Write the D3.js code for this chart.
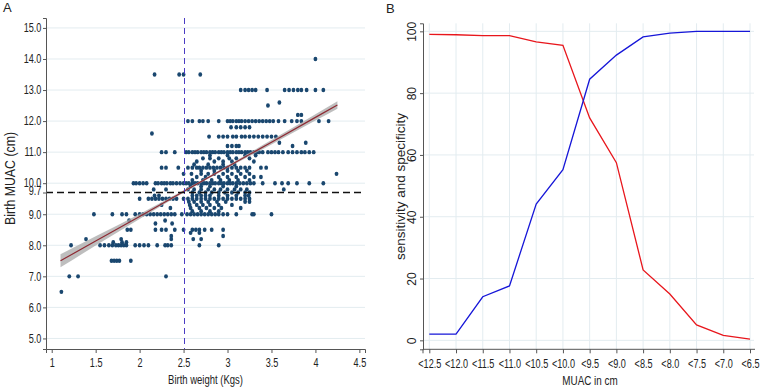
<!DOCTYPE html>
<html>
<head>
<meta charset="utf-8">
<script src="https://cdn.jsdelivr.net/npm/d3@7"></script>
<style>
  body { margin: 0; background: #fff; }
  svg { display: block; }
  text { fill: #222; }
</style>
</head>
<body>
<svg id="chart" width="760" height="388"></svg>
<script>
// ---- panel A data: birth MUAC levels and the birth weights seen at each level
var muacLevels = [14.0, 13.5, 13.0, 12.6, 12.5, 12.2, 12.0, 11.8, 11.6, 11.5, 11.3, 11.2, 11.0, 10.9, 10.8, 10.7, 10.6, 10.5, 10.4, 10.3, 10.2, 10.1, 10.0, 9.9, 9.8, 9.7, 9.6, 9.5, 9.4, 9.3, 9.2, 9.1, 9.0, 8.8, 8.7, 8.5, 8.4, 8.3, 8.2, 8.1, 8.0, 7.5, 7.0, 6.5];
var weightsByLevel = [
  [4.0],
  [2.17, 2.45, 2.5, 2.69],
  [3.15, 3.2, 3.24, 3.28, 3.32, 3.45, 3.65, 3.7, 3.75, 3.8, 3.84, 3.9, 4.0, 4.09],
  [3.59],
  [3.46],
  [3.8, 3.84],
  [2.55, 2.6, 2.68, 2.72, 2.78, 2.9, 3.0, 3.03, 3.06, 3.1, 3.13, 3.16, 3.2, 3.24, 3.28, 3.32, 3.36, 3.4, 3.44, 3.48, 3.52, 3.58, 3.65, 3.73, 3.79, 3.84, 4.04, 4.15],
  [3.04, 3.1, 3.15, 3.2, 3.25],
  [2.14],
  [2.79, 2.9, 2.95, 3.0, 3.06, 3.1, 3.16, 3.2, 3.25, 3.3, 3.35, 3.4, 3.45, 3.5, 3.55],
  [3.59, 3.89],
  [3.0, 3.05, 3.1, 3.13, 3.74],
  [2.25, 2.3, 2.4, 2.53, 2.56, 2.6, 2.63, 2.66, 2.7, 2.73, 2.76, 2.8, 2.83, 2.86, 2.9, 2.93, 2.96, 3.0, 3.03, 3.06, 3.1, 3.13, 3.16, 3.2, 3.23, 3.26, 3.3, 3.33, 3.36, 3.4, 3.46, 3.5, 3.54, 3.58, 3.63, 3.69, 3.74, 3.79, 3.84, 3.88, 3.93, 3.98],
  [2.8, 3.0, 3.2, 3.32],
  [2.72, 2.8, 2.9, 3.02, 3.1, 3.25],
  [2.65, 2.85, 2.95, 3.05, 3.3],
  [2.62, 2.78, 2.95, 3.08],
  [2.25, 2.3, 2.44, 2.55, 2.6, 2.65, 2.68, 2.72, 2.76, 2.8, 2.84, 2.88, 2.92, 2.96, 3.0, 3.05, 3.1, 3.15, 3.2, 3.25, 3.38, 3.44],
  [2.7, 2.85, 3.0, 3.12, 3.22],
  [2.5, 2.59, 2.7, 2.78, 2.85, 2.95, 3.05, 3.15, 3.25, 4.24],
  [2.65, 2.75, 2.9, 3.0, 3.1, 3.2, 3.3, 3.38],
  [2.6, 2.72, 2.82, 2.92, 3.02, 3.12, 3.25],
  [1.93, 1.96, 2.0, 2.04, 2.08, 2.18, 2.21, 2.25, 2.28, 2.31, 2.35, 2.38, 2.42, 2.46, 2.5, 2.53, 2.56, 2.6, 2.63, 2.66, 2.7, 2.73, 2.76, 2.8, 2.83, 2.86, 2.9, 2.93, 2.96, 3.0, 3.03, 3.06, 3.1, 3.14, 3.18, 3.22, 3.26, 3.3, 3.4, 3.54, 3.62, 3.69, 3.79, 3.93, 4.09],
  [2.58, 2.7, 2.8, 2.95, 3.1],
  [2.16, 2.3, 2.55, 2.62, 2.7, 2.78, 2.85, 2.92, 3.0, 3.08, 3.15, 3.22, 3.64],
  [2.6, 2.68, 2.75, 2.82, 2.9, 2.97, 3.05, 3.12, 3.2, 3.25],
  [2.17, 2.22, 2.6, 2.65, 2.7, 2.75, 2.8, 2.9, 3.0, 3.1, 3.2, 3.24],
  [2.0, 2.1, 2.14, 2.18, 2.22, 2.26, 2.3, 2.34, 2.38, 2.42, 2.5, 2.55, 2.6, 2.65, 2.7, 2.75, 2.8, 2.85, 2.9, 2.95, 3.0, 3.05, 3.1, 3.15, 3.2, 3.25],
  [2.56, 2.62, 2.7, 2.78, 2.88, 2.98, 3.2, 3.25],
  [2.25, 2.57, 2.65, 2.72, 2.8, 2.9, 3.05],
  [2.35, 2.58, 2.68, 2.76, 2.85, 2.93, 3.15],
  [2.6, 2.7, 2.8, 2.9],
  [1.48, 1.69, 1.8, 1.85, 1.95, 2.0, 2.04, 2.08, 2.12, 2.16, 2.2, 2.24, 2.28, 2.32, 2.36, 2.4, 2.48, 2.54, 2.58, 2.62, 2.66, 2.7, 2.74, 2.78, 2.82, 2.86, 2.9, 2.95, 3.0, 3.1, 3.28, 3.3, 3.5],
  [1.88, 2.29],
  [2.18, 2.37],
  [1.86, 1.9, 2.18, 2.25, 2.3, 2.4, 2.5, 2.6, 2.64, 2.68, 2.74, 2.82, 2.95],
  [2.58, 2.68],
  [2.36, 2.95],
  [1.39, 1.79, 2.36, 2.61, 2.7],
  [1.7, 1.8, 1.85],
  [1.22, 1.55, 1.6, 1.65, 1.69, 1.73, 1.76, 1.79, 1.82, 1.85, 1.95, 2.0, 2.05, 2.1, 2.2, 2.29, 2.32, 2.36, 2.68, 2.9],
  [1.68, 1.71, 1.74, 1.77, 1.9],
  [1.2, 1.3, 2.3],
  [1.11]
];
// fitted line with its confidence band, read at a few weights
var fitX  = [1.1, 1.5, 2.0, 2.5, 3.0, 3.5, 4.0, 4.25];
var fitY  = [7.50, 8.14, 8.93, 9.73, 10.53, 11.32, 12.12, 12.52];
var fitHw = [0.21, 0.15, 0.08, 0.04, 0.04, 0.07, 0.10, 0.12];
var weightTicks = [1, 1.5, 2, 2.5, 3, 3.5, 4, 4.5];
var muacTicks = [5, 6, 7, 8, 9, 9.7, 10, 11, 12, 13, 14, 15];

// ---- panel B data
var cutLabels = ["<12.5", "<12.0", "<11.5", "<11.0", "<10.5", "<10.0", "<9.5", "<9.0", "<8.5", "<8.0", "<7.5", "<7.0", "<6.5"];
var specificity = [99.0, 98.9, 98.6, 98.6, 96.6, 95.5, 72.0, 57.5, 22.8, 15.0, 5.0, 1.6, 0.4];
var sensitivity = [2.0, 2.0, 14.1, 17.6, 44.1, 55.2, 84.5, 92.3, 98.2, 99.4, 100, 100, 100];
var pctTicks = [0, 20, 40, 60, 80, 100];

var sans = "'Liberation Sans', Arial, sans-serif";
var gridCol = "#e3ecf0";
var axisCol = "#555";

var svg = d3.select("#chart");

// ================= panel A =================
var xA = d3.scaleLinear().domain([0.935, 4.564]).range([46, 365]);
var yA = d3.scaleLinear().domain([4.66, 15.32]).range([349, 18]);

svg.append("text").attr("x", 3).attr("y", 12).attr("font-family", sans).attr("font-size", 13).text("A");

var gA = svg.append("g");
gA.append("g").selectAll("line")
    .data(muacTicks.filter(d => d !== 9.7))
    .enter().append("line")
    .attr("x1", 46).attr("x2", 365)
    .attr("y1", d => yA(d)).attr("y2", d => yA(d))
    .attr("stroke", gridCol).attr("stroke-width", 1);

var pts = [];
muacLevels.forEach((m, i) => weightsByLevel[i].forEach(w => pts.push([w, m])));

// confidence band
var band = d3.area()
    .x((d, i) => xA(fitX[i]))
    .y0((d, i) => yA(fitY[i] - fitHw[i]))
    .y1((d, i) => yA(fitY[i] + fitHw[i]))
    .curve(d3.curveMonotoneX);

gA.append("g").selectAll("ellipse")
    .data(pts)
    .enter().append("ellipse")
    .attr("cx", d => xA(d[0])).attr("cy", d => yA(d[1]))
    .attr("rx", 1.9).attr("ry", 2.2)
    .attr("fill", "#1a476f");

gA.append("path").datum(fitX).attr("d", band).attr("fill", "#a8a8a8").attr("opacity", 0.75);
gA.append("path").datum(fitX)
    .attr("d", d3.line().x((d, i) => xA(fitX[i])).y((d, i) => yA(fitY[i])))
    .attr("fill", "none").attr("stroke", "#8e2a33").attr("stroke-width", 1.2);

var x25 = Math.round(xA(2.5)) + 0.5;
gA.append("line")
    .attr("x1", x25).attr("x2", x25).attr("y1", 18).attr("y2", 349)
    .attr("stroke", "#4a3cc4").attr("stroke-width", 1).attr("stroke-dasharray", "6,4");
gA.append("line")
    .attr("x1", 46).attr("x2", 365).attr("y1", yA(9.7)).attr("y2", yA(9.7))
    .attr("stroke", "#111").attr("stroke-width", 1.4).attr("stroke-dasharray", "7,4");

var axAy = gA.append("g").attr("transform", "translate(46,0)")
    .call(d3.axisLeft(yA).tickValues(muacTicks).tickSize(3).tickPadding(3)
        .tickFormat(d => d3.format(".1f")(d)));
var axAx = gA.append("g").attr("transform", "translate(0,349)")
    .call(d3.axisBottom(xA).tickValues(weightTicks).tickSize(4).tickPadding(5)
        .tickFormat(d => String(d)));
[axAy, axAx].forEach(a => {
  a.select(".domain").attr("stroke", axisCol);
  a.selectAll(".tick line").attr("stroke", axisCol);
  a.selectAll(".tick text").attr("font-family", sans).attr("fill", "#222");
});
// narrow look of the original labels
axAy.selectAll(".tick text").attr("font-size", 12).attr("transform", "scale(0.76,1)");
axAx.selectAll(".tick text").attr("font-size", 13).attr("transform", "scale(0.7,1)");
axAy.selectAll(".tick text").filter(d => d === 9.7).attr("dy", "0.15em");
axAy.selectAll(".tick text").filter(d => d === 10).attr("dy", "0.25em");

svg.append("text")
    .attr("transform", "translate(15,178.5)rotate(-90)scale(0.88,1)")
    .attr("text-anchor", "middle").attr("font-family", sans).attr("font-size", 14)
    .text("Birth MUAC (cm)");
svg.append("text")
    .attr("transform", "translate(205.5,384)scale(0.73,1)")
    .attr("text-anchor", "middle").attr("font-family", sans).attr("font-size", 13)
    .text("Birth weight (Kgs)");

// ================= panel B =================
var xB = d3.scalePoint().domain(d3.range(cutLabels.length)).range([429.3, 750]);
var yB = d3.scaleLinear().domain([-2.9, 102.6]).range([349.3, 23.3]);

svg.append("text").attr("x", 386).attr("y", 13).attr("font-family", sans).attr("font-size", 13).text("B");

var gB = svg.append("g");
gB.append("g").selectAll("line")
    .data(pctTicks)
    .enter().append("line")
    .attr("x1", 423).attr("x2", 754)
    .attr("y1", d => yB(d)).attr("y2", d => yB(d))
    .attr("stroke", gridCol);
gB.append("g").selectAll("line")
    .data(d3.range(cutLabels.length))
    .enter().append("line")
    .attr("x1", d => xB(d)).attr("x2", d => xB(d))
    .attr("y1", 23.3).attr("y2", 349.3)
    .attr("stroke", gridCol);

var lineB = vals => d3.line().x((d, i) => xB(i)).y(d => yB(d))(vals);
gB.append("path").attr("d", lineB(specificity)).attr("fill", "none").attr("stroke", "#e8161c").attr("stroke-width", 1.3);
gB.append("path").attr("d", lineB(sensitivity)).attr("fill", "none").attr("stroke", "#1616d8").attr("stroke-width", 1.3);

var axBy = gB.append("g").attr("transform", "translate(423,0)")
    .call(d3.axisLeft(yB).tickValues(pctTicks).tickSize(3).tickPadding(0).tickFormat(d => ""));
axBy.selectAll(".tick").append("text")
    .attr("transform", "translate(-7,0)rotate(-90)")
    .attr("text-anchor", "middle").attr("font-family", sans).attr("font-size", 12).attr("fill", "#222")
    .text(d => d);
var axBx = gB.append("g").attr("transform", "translate(0,349.3)")
    .call(d3.axisBottom(xB).tickSize(4).tickPadding(5).tickFormat(i => cutLabels[i]));
axBx.select(".domain").attr("d", "M423,4V0H755");
[axBy, axBx].forEach(a => {
  a.select(".domain").attr("stroke", axisCol);
  a.selectAll(".tick line").attr("stroke", axisCol);
});
axBx.selectAll(".tick text").attr("font-family", sans).attr("font-size", 13).attr("fill", "#222")
    .attr("transform", "scale(0.7,1)");

svg.append("text")
    .attr("transform", "translate(405,186.5)rotate(-90)")
    .attr("text-anchor", "middle").attr("font-family", sans).attr("font-size", 13.5)
    .text("sensitivity and specificity");
svg.append("text")
    .attr("transform", "translate(590,385)scale(0.76,1)")
    .attr("text-anchor", "middle").attr("font-family", sans).attr("font-size", 13)
    .text("MUAC in cm");
</script>
</body>
</html>
